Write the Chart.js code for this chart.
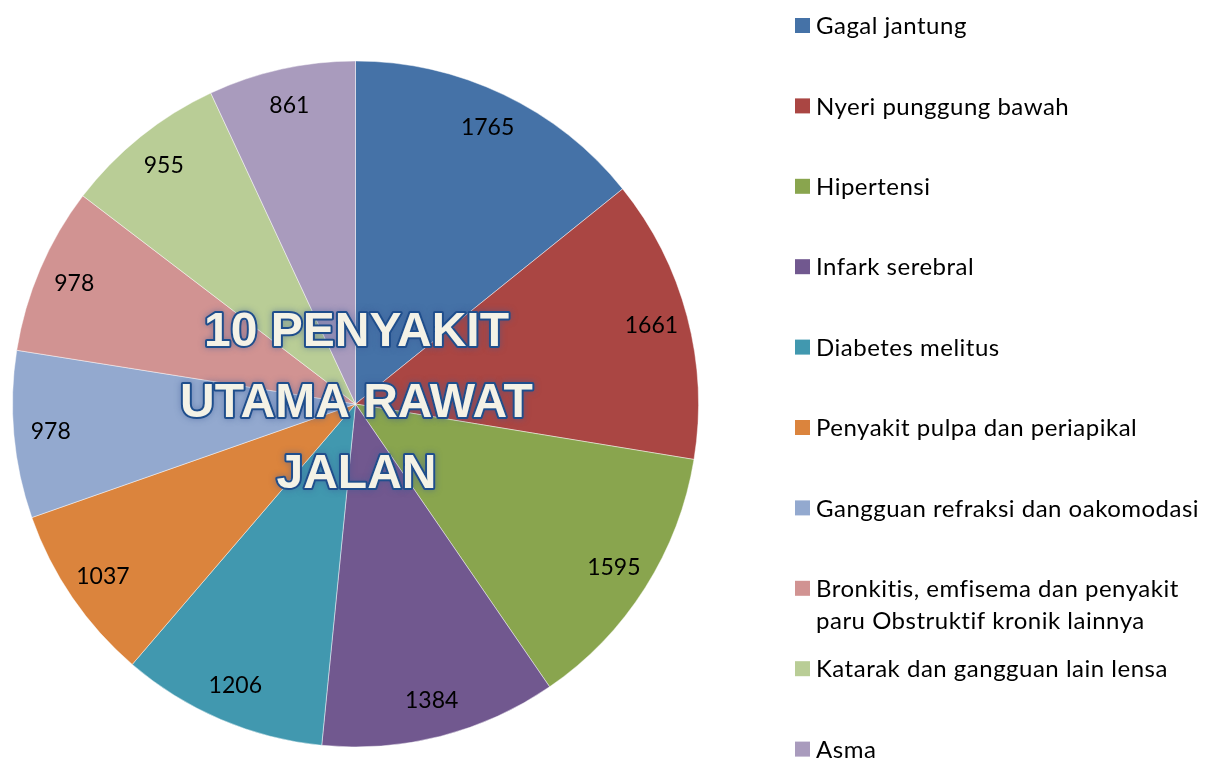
<!DOCTYPE html>
<html>
<head>
<meta charset="utf-8">
<script src="https://cdn.jsdelivr.net/npm/chart.js@4.4.1/dist/chart.umd.min.js"></script>
<style>
  html, body { margin: 0; padding: 0; background: #fff; }
  #wrap { width: 1207px; height: 760px; position: relative; }
</style>
</head>
<body>
<div id="wrap"><canvas id="myChart"></canvas></div>
<script>
// 10 penyakit utama rawat jalan
const penyakit = [
  'Gagal jantung',
  'Nyeri punggung bawah',
  'Hipertensi',
  'Infark serebral',
  'Diabetes melitus',
  'Penyakit pulpa dan periapikal',
  'Gangguan refraksi dan oakomodasi',
  ['Bronkitis, emfisema dan penyakit', 'paru Obstruktif kronik lainnya'],
  'Katarak dan gangguan lain lensa',
  'Asma'
]
const jumlah = [1765, 1661, 1595, 1384, 1206, 1037, 978, 978, 955, 861]
const warna = ['#4572A7', '#AA4643', '#89A54E', '#71588F', '#4198AF',
               '#DB843D', '#93A9CF', '#D19392', '#B9CD96', '#A99BBD']
const judul = ['10 PENYAKIT', 'UTAMA RAWAT', 'JALAN']

// numbers inside the slices
const valueLabels = {
  id: 'valueLabels',
  afterDatasetsDraw(chart) {
    const ctx = chart.ctx
    const meta = chart.getDatasetMeta(0)
    ctx.save()
    ctx.font = '23px Lato, "Open Sans", sans-serif'
    ctx.fillStyle = '#000'
    ctx.textAlign = 'center'
    ctx.textBaseline = 'middle'
    meta.data.forEach((arc, i) => {
      const p = arc.getProps(['x', 'y', 'startAngle', 'endAngle', 'outerRadius'], true)
      const mid = (p.startAngle + p.endAngle) / 2
      const r = p.outerRadius - 37
      ctx.fillText(jumlah[i], p.x + Math.cos(mid) * r, p.y + Math.sin(mid) * r)
    })
    ctx.restore()
  }
}

// big title over the middle of the pie
const titleText = {
  id: 'titleText',
  afterDraw(chart) {
    const ctx = chart.ctx
    const arc = chart.getDatasetMeta(0).data[0]
    const cx = arc.x + 1, cy = arc.y
    ctx.save()
    ctx.font = 'bold 48px "Liberation Sans", Arial, sans-serif'
    ctx.textAlign = 'center'
    ctx.textBaseline = 'middle'
    ctx.lineJoin = 'round'
    judul.forEach((t, i) => {
      const y = cy - 71 + i * 71
      ctx.shadowColor = 'rgba(60,90,150,0.55)'
      ctx.shadowBlur = 6
      ctx.strokeStyle = '#1F4E8C'
      ctx.lineWidth = 4
      ctx.strokeText(t, cx, y)
      ctx.shadowBlur = 0
      ctx.fillStyle = '#F4F2E6'
      ctx.fillText(t, cx, y)
    })
    ctx.restore()
  }
}

// legend on the right
const sideLegend = {
  id: 'sideLegend',
  afterDraw(chart) {
    const ctx = chart.ctx
    ctx.save()
    ctx.font = '24px Lato, "Open Sans", sans-serif'
    ctx.letterSpacing = '0.5px'
    ctx.textBaseline = 'middle'
    penyakit.forEach((lab, i) => {
      const y = 25.5 + i * 80.4
      ctx.fillStyle = warna[i]
      ctx.fillRect(795, y - 7.5, 15, 15)
      ctx.fillStyle = '#000'
      const lines = Array.isArray(lab) ? lab : [lab]
      lines.forEach((l, j) => ctx.fillText(l, 816, y + 1 + j * 32))
    })
    ctx.restore()
  }
}

new Chart(document.getElementById('myChart'), {
  type: 'pie',
  data: {
    labels: penyakit,
    datasets: [{
      data: jumlah,
      backgroundColor: warna,
      borderColor: 'rgba(255,255,255,0.45)',
      borderWidth: 1
    }]
  },
  options: {
    responsive: true,
    maintainAspectRatio: false,
    animation: false,
    layout: { padding: { left: 12, right: 508, top: 60, bottom: 12 } },
    plugins: {
      legend: { display: false },
      tooltip: { enabled: false }
    }
  },
  plugins: [valueLabels, titleText, sideLegend]
})
</script>
</body>
</html>
